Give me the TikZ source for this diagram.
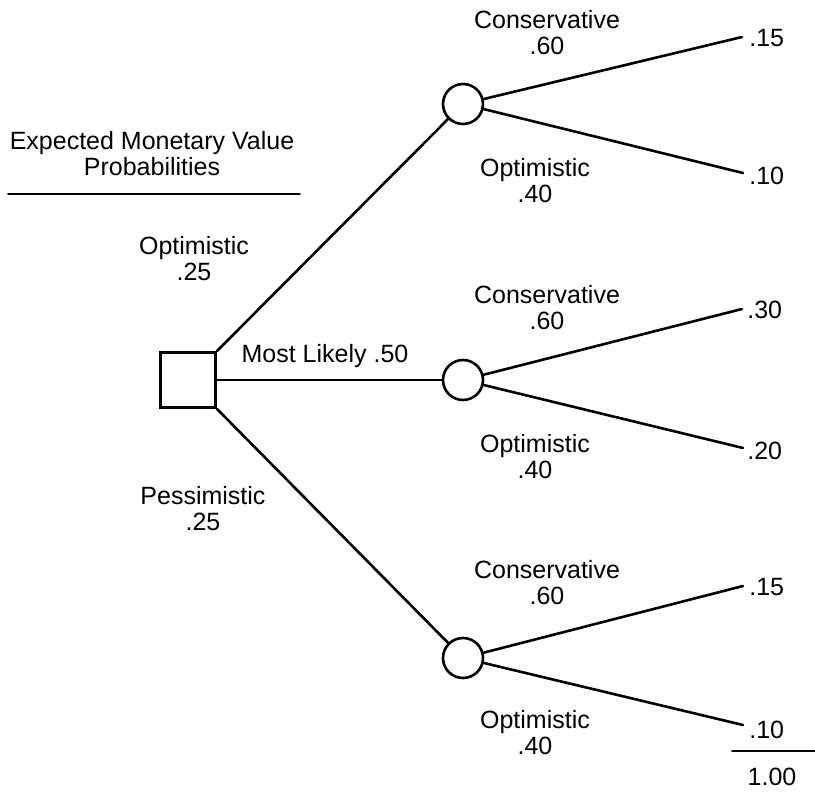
\documentclass[tikz,border=0pt]{standalone}
\usepackage{fontspec}
\setmainfont{Liberation Sans}
\usepackage{tikz}

\begin{document}
\begin{tikzpicture}[x=1pt,y=-1pt,line width=2.6pt,line cap=round,
  font=\fontsize{25}{26}\selectfont,
  decision/.style={draw,rectangle,minimum size=55pt,inner sep=0pt},
  chance/.style={draw,circle,minimum size=40pt,inner sep=0pt},
  lbl/.style={inner sep=0pt,align=center}]
\useasboundingbox (0,0) rectangle (815,794);
% header
\node[lbl] (hd1) at (152,143) {Expected Monetary Value};
\node[lbl] (hd2) at (152,167) {Probabilities};
\draw[line width=1.8pt] (8,194) -- (300,194);
% decision and chance nodes
\node[decision] (sq) at (188,380) {};
\node[chance] (c1) at (463,104) {};
\node[chance] (c2) at (463,380) {};
\node[chance] (c3) at (463,658) {};
\draw (sq.north east) -- (c1);
\draw (sq.east) -- (c2);
\draw (sq.south east) -- (c3);
\node[lbl] (o1) at (194,259) {Optimistic\\.25};
\node[lbl] (ml) at (325,356) {Most Likely .50};
\node[lbl] (p1) at (203,509) {Pessimistic\\.25};
% outcome ends
\coordinate (e1) at (742,37);
\coordinate (e2) at (743,173);
\coordinate (e3) at (742,309);
\coordinate (e4) at (743,448);
\coordinate (e5) at (743,586);
\coordinate (e6) at (743,725);
\draw (c1) -- (e1);
\draw (c1) -- (e2);
\draw (c2) -- (e3);
\draw (c2) -- (e4);
\draw (c3) -- (e5);
\draw (c3) -- (e6);
% branch labels
\node[lbl] (k1) at (547,33) {Conservative\\.60};
\node[lbl] (k2) at (535,181) {Optimistic\\.40};
\node[lbl] (k3) at (547,308) {Conservative\\.60};
\node[lbl] (k4) at (535,457) {Optimistic\\.40};
\node[lbl] (k5) at (547,583) {Conservative\\.60};
\node[lbl] (k6) at (535,733) {Optimistic\\.40};
% values
\node[lbl,anchor=west] (v1) at (748,38) {.15};
\node[lbl,anchor=west] (v2) at (748,176) {.10};
\node[lbl,anchor=west] (v3) at (746,310) {.30};
\node[lbl,anchor=west] (v4) at (746,451) {.20};
\node[lbl,anchor=west] (v5) at (748,587) {.15};
\node[lbl,anchor=west] (v6) at (748,730) {.10};
\draw[line width=1.8pt] (732,751) -- (815,751);
\node[lbl] (tot) at (772,777) {1.00};
\end{tikzpicture}
\end{document}
